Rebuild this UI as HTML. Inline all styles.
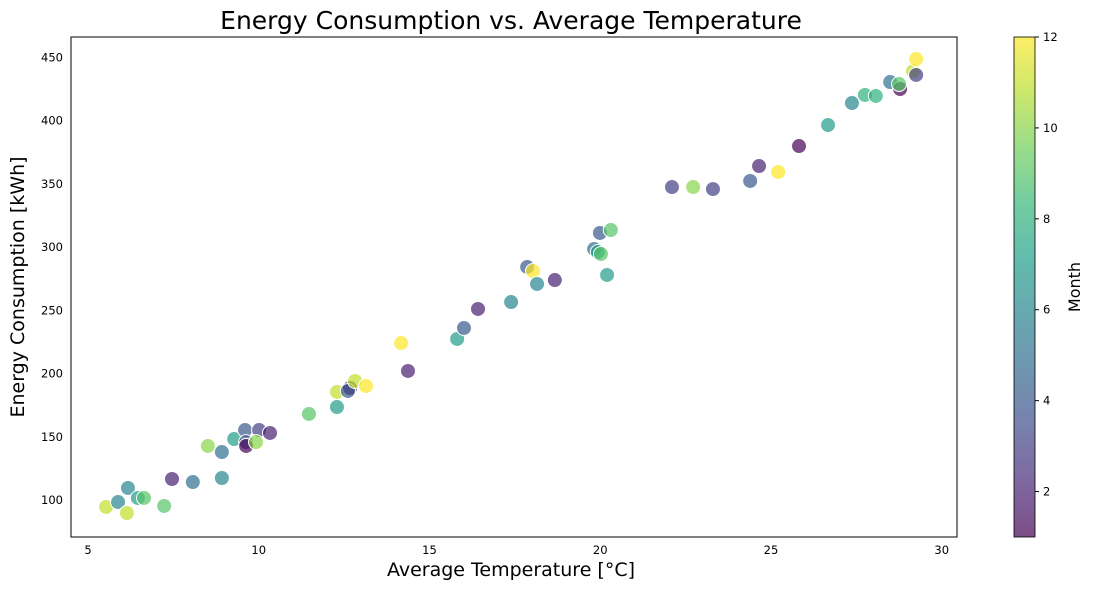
<!DOCTYPE html>
<html><head><meta charset="utf-8"><style>body{margin:0;background:#fff}svg{display:block;font-family:"DejaVu Sans","Liberation Sans",sans-serif}</style></head>
<body>
<svg id="chart" width="1093" height="589">
<rect x="0" y="0" width="1093" height="589" fill="#fff"/>
<text x="511" y="29" font-size="25" text-anchor="middle">Energy Consumption vs. Average Temperature</text>
<g id="points"></g>
<rect x="71" y="37" width="886" height="500" fill="none" stroke="#000" stroke-width="1"/>
<g id="xticks"></g>
<g id="yticks"></g>
<text x="511" y="576" font-size="19" text-anchor="middle">Average Temperature [°C]</text>
<text transform="translate(24,287) rotate(-90)" font-size="19" text-anchor="middle">Energy Consumption [kWh]</text>
<defs><linearGradient id="vir" x1="0" y1="1" x2="0" y2="0"></linearGradient></defs>
<rect x="1014" y="37" width="21" height="500" fill="url(#vir)" opacity="0.7"/>
<rect x="1014" y="37" width="21" height="500" fill="none" stroke="#000" stroke-width="0.8"/>
<g id="cticks"></g>
<text transform="translate(1080,287) rotate(-90)" font-size="16" text-anchor="middle">Month</text>
</svg>
<script>
const temps=[5.53,5.88,6.17,6.46,6.64,6.14,7.23,7.46,8.07,8.92,8.51,8.92,9.28,9.60,10.01,10.33,9.63,9.63,9.92,11.47,12.29,12.29,12.67,12.61,12.82,13.14,14.37,14.17,15.81,16.01,16.42,17.39,17.86,18.03,18.15,18.67,19.82,19.93,20.02,19.99,20.31,20.20,22.10,22.72,23.30,24.39,24.65,25.21,25.82,26.67,27.37,27.75,28.07,28.49,28.78,28.75,29.16,29.25,29.25];
const energy=[94.5,98.4,109.5,101.6,101.6,89.7,95.3,116.6,114.2,117.4,142.7,137.9,148.2,155.3,155.3,153,145.8,142.7,145.8,168,173.5,185.4,188.5,186.2,194.1,190.1,202,224.1,227.3,236,251,256.5,284.2,281,270.8,273.9,298.4,296,294.5,311.1,313.4,277.9,347.4,347.4,345.8,352.2,364,359.3,379.8,396.4,413.8,420.2,419.4,430.4,424.9,428.9,439.1,448.6,436];
const months=[11,6,6,7,9,11,9,2,5,6,10,5,7,4,3,2,4,1,10,9,7,11,1,4,11,12,2,12,7,4,2,6,4,12,6,2,5,7,9,4,9,7,3,10,3,4,2,12,1,7,6,8,8,5,1,9,11,12,3];
const xTicks=[5,10,15,20,25,30];
const yTicks=[100,150,200,250,300,350,400,450];
const cTicks=[2,4,6,8,10,12];
const NS="http://www.w3.org/2000/svg";
const xS=v=>88+(v-5)*34.15, yS=v=>500-(v-100)*1.265, cS=v=>537-(v-1)*500/11;
const vir=[[68,1,84],[72,40,120],[62,74,137],[49,104,142],[38,130,142],[31,158,137],[53,183,121],[110,206,88],[181,222,43],[253,231,37]];
function col(m){let t=(m-1)/11*(vir.length-1);let i=Math.min(Math.floor(t),vir.length-2);let f=t-i;const c=vir[i].map((a,k)=>Math.round(a+(vir[i+1][k]-a)*f));return `rgb(${c})`;}
const g=document.getElementById('vir');
for(let i=0;i<vir.length;i++){const s=document.createElementNS(NS,'stop');s.setAttribute('offset',i/(vir.length-1));s.setAttribute('stop-color',`rgb(${vir[i]})`);g.appendChild(s);}
const P=document.getElementById('points');
temps.forEach((t,i)=>{const c=document.createElementNS(NS,'circle');
c.setAttribute('cx',xS(t));c.setAttribute('cy',yS(energy[i]));c.setAttribute('r',7.5);
c.setAttribute('fill',col(months[i]));c.setAttribute('fill-opacity',0.7);c.setAttribute('stroke','#fff');c.setAttribute('stroke-width',1);


P.appendChild(c);});
const X=document.getElementById('xticks');
xTicks.forEach(v=>{const t=document.createElementNS(NS,'text');t.setAttribute('x',xS(v));t.setAttribute('y',554);t.setAttribute('font-size',11.5);t.setAttribute('text-anchor','middle');t.textContent=v;


X.appendChild(t);});
const Y=document.getElementById('yticks');
yTicks.forEach(v=>{const t=document.createElementNS(NS,'text');t.setAttribute('x',63);t.setAttribute('y',yS(v)+4);t.setAttribute('font-size',11.5);t.setAttribute('text-anchor','end');t.textContent=v;


Y.appendChild(t);});
const C=document.getElementById('cticks');
cTicks.forEach(v=>{const l=document.createElementNS(NS,'line');l.setAttribute('x1',1035);l.setAttribute('x2',1039);l.setAttribute('y1',cS(v));l.setAttribute('y2',cS(v));l.setAttribute('stroke','#000');


C.appendChild(l);
const t=document.createElementNS(NS,'text');t.setAttribute('x',1043);t.setAttribute('y',cS(v)+4);t.setAttribute('font-size',11.5);t.textContent=v;


C.appendChild(t);});
</script>
</body></html>
